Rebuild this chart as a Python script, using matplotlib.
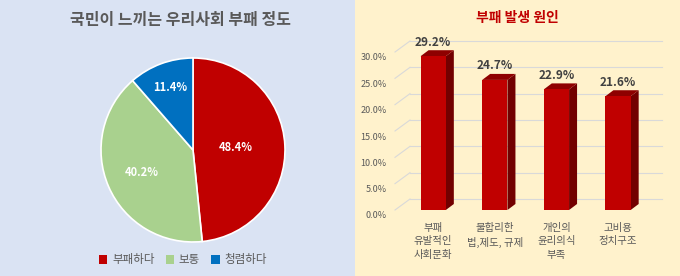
import matplotlib
matplotlib.use("Agg")
import matplotlib.pyplot as plt
from matplotlib.patches import Rectangle, Polygon
from matplotlib.transforms import ScaledTranslation
import numpy as np

plt.rcParams["font.family"] = ["Noto Sans CJK KR", "DejaVu Sans"]

# data
pie_labels = ["부패하다", "보통", "청렴하다"]
pie_values = [48.4, 40.2, 11.4]
pie_colors = ["#C00000", "#A9D18E", "#0070C0"]

bar_cats = ["부패\n유발적인\n사회문화", "불합리한\n법,제도, 규제", "개인의\n윤리의식\n부족", "고비용\n정치구조"]
bar_values = [29.2, 24.7, 22.9, 21.6]
y_ticks = [0, 5, 10, 15, 20, 25, 30]

W, H = 680, 276
BLUE_BG = "#DAE3F3"
CREAM_BG = "#FFF2CC"
GRAY = "#595959"
RED = "#C00000"

fig = plt.figure(figsize=(W / 100, H / 100), dpi=100)
fig.patch.set_facecolor(CREAM_BG)
fig.patches.append(Rectangle((0, 0), 355 / W, 1, transform=fig.transFigure,
                             facecolor=BLUE_BG, edgecolor="none", zorder=-10))

# ---- left: pie ----
fig.text(181 / W, 1 - 20 / H, "국민이 느끼는 우리사회 부패 정도", ha="center", va="center",
         fontsize=11.5, fontweight="bold", color=GRAY)

cx, cy, r = 193, 150, 92
axp = fig.add_axes([(cx - r) / W, (H - cy - r) / H, 2 * r / W, 2 * r / H])
wedges, _ = axp.pie(pie_values, colors=pie_colors, startangle=90, counterclock=False,
                    wedgeprops=dict(edgecolor="white", linewidth=1.2))
axp.set_xlim(-1, 1)
axp.set_ylim(-1, 1)
axp.set_aspect("equal")
axp.axis("off")

label_dist = [0.46, 0.61, 0.72]
start = 90.0
for v, d in zip(pie_values, label_dist):
    mid = np.deg2rad(start - v / 100 * 360 / 2)
    axp.text(d * np.cos(mid), d * np.sin(mid), f"{v:.1f}%", ha="center", va="center",
             color="white", fontsize=8, fontweight="bold")
    start -= v / 100 * 360

handles = [Rectangle((0, 0), 1, 1, facecolor=c) for c in pie_colors]
fig.legend(handles, pie_labels, loc="center", bbox_to_anchor=(183 / W, 1 - 260 / H),
           ncol=3, frameon=False, fontsize=8.3, labelcolor=GRAY,
           handlelength=0.7, handleheight=0.7, handletextpad=0.4, columnspacing=1.0)

# ---- right: 3D-ish bars ----
fig.text(517 / W, 1 - 18 / H, "부패 발생 원인", ha="center", va="center",
         fontsize=10, fontweight="bold", color=RED)

ax_l, ax_r, ax_t, ax_b = 395, 647, 52, 210
ax = fig.add_axes([ax_l / W, (H - ax_b) / H, (ax_r - ax_l) / W, (ax_b - ax_t) / H])
ax.set_facecolor("none")
x0, x1 = -0.62, 3.47
ax.set_xlim(x0, x1)
ax.set_ylim(0, 30)
for s in ax.spines.values():
    s.set_visible(False)

px_x = (ax_r - ax_l) / (x1 - x0)
px_y = (ax_b - ax_t) / 30.0
gdx, gdy = 15 / px_x, 11 / px_y  # back wall offset
bdx, bdy = 8 / px_x, 6 / px_y    # bar depth

for t in y_ticks:
    ax.plot([x0 + gdx, x1 + gdx], [t + gdy, t + gdy], color="#D9D9D9", lw=0.8,
            clip_on=False, zorder=0)
    ax.plot([x0, x0 + gdx], [t, t + gdy], color="#D9D9D9", lw=0.8, clip_on=False, zorder=0)

xs = np.arange(len(bar_values))
w = 0.41
for x, v in zip(xs, bar_values):
    l, rr = x - w / 2, x + w / 2
    ax.add_patch(Polygon([(rr, 0), (rr + bdx, bdy), (rr + bdx, v + bdy), (rr, v)],
                         closed=True, facecolor="#720000", edgecolor="none", clip_on=False, zorder=2))
    ax.add_patch(Polygon([(l, v), (rr, v), (rr + bdx, v + bdy), (l + bdx, v + bdy)],
                         closed=True, facecolor="#8E0000", edgecolor="none", clip_on=False, zorder=2))
    ax.add_patch(Rectangle((l, 0), w, v, facecolor=RED, edgecolor="none", clip_on=False, zorder=3))
    ax.text(x, v + 14 / px_y, f"{v:.1f}%", ha="center", va="center", fontsize=8.5,
            fontweight="bold", color="#404040", clip_on=False)

ax.set_yticks(y_ticks)
ax.set_yticklabels([f"{t:.1f}%" for t in y_ticks], fontsize=6.5, color=GRAY)
ax.set_xticks(xs)
ax.set_xticklabels(bar_cats, fontsize=7.5, color=GRAY, linespacing=1.45)
ax.tick_params(axis="both", length=0)
ax.tick_params(axis="y", pad=6)
ax.tick_params(axis="x", pad=9)
shift = ScaledTranslation(0, -0.05, fig.dpi_scale_trans)
for lbl in ax.get_yticklabels():
    lbl.set_transform(lbl.get_transform() + shift)

fig.savefig("out.png", dpi=100, facecolor=fig.get_facecolor())
